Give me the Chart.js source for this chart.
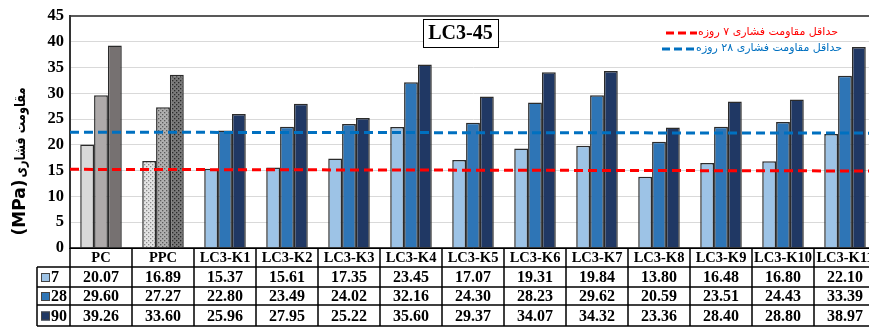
<!DOCTYPE html>
<html><head><meta charset="utf-8">
<script src="https://cdn.jsdelivr.net/npm/chart.js@4.4.1/dist/chart.umd.min.js"></script>
<style>html,body{margin:0;padding:0;overflow:hidden;background:#fff}</style>
</head><body>
<canvas id="c" width="880" height="327" style="width:880px;height:327px"></canvas>
<script>
const categories = ['PC','PPC','LC3-K1','LC3-K2','LC3-K3','LC3-K4','LC3-K5','LC3-K6','LC3-K7','LC3-K8','LC3-K9','LC3-K10','LC3-K11'];
const seriesLabels = ['7','28','90'];
const age7  = [20.07,16.89,15.37,15.61,17.35,23.45,17.07,19.31,19.84,13.80,16.48,16.80,22.10];
const age28 = [29.60,27.27,22.80,23.49,24.02,32.16,24.30,28.23,29.62,20.59,23.51,24.43,33.39];
const age90 = [39.26,33.60,25.96,27.95,25.22,35.60,29.37,34.07,34.32,23.36,28.40,28.80,38.97];
const minLine7  = [15.25, 14.93];   // left end, right end
const minLine28 = [22.45, 22.27];
const chartTitle = 'LC3-45';
const legend7Text = 'حداقل مقاومت فشاری ۷ روزه';
const legend28Text = 'حداقل مقاومت فشاری ۲۸ روزه';
const yTitleUnit = '(MPa)';
const yTitleText = 'مقاومت فشاری';

const pcColors  = ['#d9d9d9','#aeaaaa','#767171'];
const lc3Colors = ['#9dc3e6','#2e75b6','#203864'];

function dots(bg, dot){
  const c = document.createElement('canvas'); c.width = 4; c.height = 4;
  const x = c.getContext('2d');
  x.fillStyle = bg; x.fillRect(0,0,4,4);
  x.fillStyle = dot; x.fillRect(0,0,1.3,1.3); x.fillRect(2,2,1.3,1.3);
  return x.createPattern(c,'repeat');
}
const ctx = document.getElementById('c').getContext('2d');
const ppcPatterns = [dots('#e4e4e4','#8a8a8a'), dots('#b0b0b0','#5a5a5a'), dots('#7a7a7a','#2a2a2a')];

function colorsFor(i){
  return categories.map((c,k)=> k===0 ? pcColors[i] : (k===1 ? ppcPatterns[i] : lc3Colors[i]));
}
const seriesData = [age7, age28, age90];
const datasets = seriesData.map((d,i)=>({
  label: seriesLabels[i], data: d,
  backgroundColor: colorsFor(i),
  borderColor: '#2b2b2b', borderWidth: 1.5,
  categoryPercentage: 0.67, barPercentage: 1.0
}));

const serif = "'Liberation Serif','Times New Roman',serif";
const sans = "'DejaVu Sans','Liberation Sans',sans-serif";

const decor = {
  id:'decor',
  afterDatasetsDraw(chart){
    const c = chart.ctx, a = chart.chartArea, y = chart.scales.y;
    [[minLine7,'#ff0000'],[minLine28,'#0070c0']].forEach(([v,col])=>{
      c.save(); c.strokeStyle = col; c.lineWidth = 3; c.setLineDash([9,5]);
      c.beginPath(); c.moveTo(a.left, y.getPixelForValue(v[0])); c.lineTo(a.right, y.getPixelForValue(v[1])); c.stroke();
      c.restore();
    });
  },
  afterDraw(chart){
    const c = chart.ctx, a = chart.chartArea, x = chart.scales.x;
    c.save();
    // title box
    c.font = "bold 20px " + serif; c.textAlign='center'; c.textBaseline='middle';
    c.fillStyle='#fff'; c.fillRect(423,19,75,28);
    c.strokeStyle='#000'; c.lineWidth=1; c.strokeRect(423.5,19.5,75,28);
    c.fillStyle='#000'; c.fillText(chartTitle, 460.5, 34);
    // legend
    c.font = "11px " + sans; c.textAlign='right';
    c.direction='rtl';
    c.fillStyle='#ff0000'; c.fillText(legend7Text, 838, 32);
    c.fillStyle='#0070c0'; c.fillText(legend28Text, 842, 48);
    c.direction='ltr';
    [[666,697,33,'#ff0000'],[662,694,49,'#0070c0']].forEach(([x1,x2,yy,col])=>{
      c.save(); c.strokeStyle=col; c.lineWidth=3; c.setLineDash([8,4]);
      c.beginPath(); c.moveTo(x1,yy); c.lineTo(x2,yy); c.stroke(); c.restore();
    });
    // y title (two parts)
    c.save(); c.translate(21, 0); c.rotate(-Math.PI/2);
    c.fillStyle='#000'; c.textAlign='center'; c.textBaseline='middle';
    c.font = "bold 17px " + sans;
    c.fillText(yTitleUnit, -207.5, 0);
    c.font = "bold 15px " + sans;
    c.direction = 'rtl';
    const m = c.measureText(yTitleText).width;
    c.translate(-132.5, 0);
    c.scale(Math.min(1, 90 / m), 1);
    c.fillText(yTitleText, 0, 0);
    c.restore();
    // table
    const rows = [a.bottom, 267, 287, 305, 326];
    const w = (a.right - a.left) / categories.length;
    c.strokeStyle='#000'; c.lineWidth=1.5;
    c.beginPath();
    c.moveTo(a.left, rows[0]); c.lineTo(a.right, rows[0]);
    for (let r=1;r<rows.length;r++){ c.moveTo(37, rows[r]); c.lineTo(a.right, rows[r]); }
    for (let k=0;k<=categories.length;k++){ const xx = a.left + k*w; c.moveTo(xx, rows[0]); c.lineTo(xx, rows[4]); }
    c.moveTo(37, rows[1]); c.lineTo(37, rows[4]);
    c.stroke();
    c.textAlign='center'; c.textBaseline='middle'; c.fillStyle='#000';
    c.font = "bold 14.5px " + serif;
    categories.forEach((cat,k)=>{ c.fillText(cat, x.getPixelForValue(k), (rows[0]+rows[1])/2+1); });
    c.font = "bold 16px " + serif;
    seriesData.forEach((d,i)=>{
      const yy = (rows[i+1]+rows[i+2])/2 + 1;
      d.forEach((v,k)=> c.fillText(v.toFixed(2), x.getPixelForValue(k), yy));
      c.fillStyle = lc3Colors[i]; c.fillRect(41, yy-5, 9, 9);
      c.strokeStyle='#444'; c.lineWidth=1; c.strokeRect(41.5, yy-4.5, 8, 8);
      c.fillStyle='#000'; c.textAlign='left'; c.fillText(seriesLabels[i], 51, yy);
      c.textAlign='center';
    });
    c.restore();
  }
};

new Chart(ctx, {
  type:'bar',
  data:{ labels: categories, datasets },
  options:{
    responsive:false, animation:false, devicePixelRatio:1,
    layout:{ padding:{ left:0, top:15, right:4, bottom:79 } },
    plugins:{ legend:{display:false}, tooltip:{enabled:false}, title:{display:false} },
    scales:{
      x:{ display:false },
      y:{ min:0, max:45,
        afterFit(s){ s.width = 70; },
        ticks:{ stepSize:5, color:'#000', padding:6, font:{ family:serif, size:16.5, weight:'bold' } },
        grid:{ drawTicks:false,
          color:(c)=> c.tick && c.tick.value===45 ? '#595959' : (c.tick && c.tick.value===0 ? '#000' : '#d9d9d9'),
          lineWidth:(c)=> c.tick && (c.tick.value===45) ? 2 : 1 },
        border:{ display:true, color:'#333', width:2 }
      }
    }
  },
  plugins:[decor]
});
</script>
</body></html>
